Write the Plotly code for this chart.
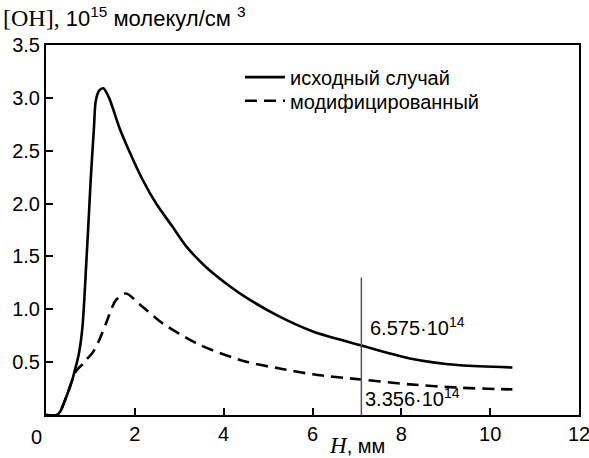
import plotly.graph_objects as go

# Data (values in units of 10^15 molecules/cm^3)
h_base = [0, 0.25, 0.33, 0.40, 0.50, 0.59, 0.66, 0.74, 0.82, 0.91, 0.97, 1.01, 1.08, 1.12,
          1.20, 1.29, 1.42, 1.65, 1.87, 2.17, 2.48, 2.85, 3.15, 3.6, 4.13, 4.51, 5.26,
          6.01, 7.1, 8.19, 9.32, 10.5]
oh_base = [0, 0, 0.04, 0.11, 0.22, 0.33, 0.44, 0.58, 0.83, 1.46, 1.93, 2.25, 2.72, 2.97,
           3.07, 3.09, 3.0, 2.72, 2.5, 2.23, 2.0, 1.78, 1.60, 1.40, 1.22, 1.11, 0.93,
           0.79, 0.6575, 0.535, 0.47, 0.45]

h_mod = [0, 0.25, 0.33, 0.40, 0.50, 0.59, 0.67, 0.75, 0.82, 0.90, 1.05, 1.20, 1.35, 1.57,
         1.80, 2.10, 2.63, 3.0, 3.38, 3.75, 4.51, 5.26, 6.01, 7.1, 8.19, 9.32, 10.5]
oh_mod = [0, 0, 0.04, 0.11, 0.22, 0.33, 0.41, 0.45, 0.48, 0.52, 0.59, 0.71, 0.865, 1.085,
          1.15, 1.05, 0.865, 0.77, 0.68, 0.613, 0.503, 0.44, 0.385, 0.3356, 0.29, 0.258, 0.242]

series_names = ["исходный случай", "модифицированный"]
marker_h = 7.1
marker_top = 1.3
marker_labels = ["6.575·10<sup>14</sup>", "3.356·10<sup>14</sup>"]

x_ticks = [2, 4, 6, 8, 10, 12]
y_ticks = [0.5, 1.0, 1.5, 2.0, 2.5, 3.0, 3.5]

SANS = "Liberation Sans, Arial, sans-serif"
FS = 20

fig = go.Figure()
fig.add_trace(go.Scatter(x=h_base, y=oh_base, mode="lines", name=series_names[0], legend="legend",
                         line=dict(color="black", width=2.6, shape="spline", smoothing=0.8)))
fig.add_trace(go.Scatter(x=h_mod, y=oh_mod, mode="lines", name=series_names[1], legend="legend2",
                         line=dict(color="black", width=2.6, dash="12px,7px", shape="spline", smoothing=0.8)))

fig.add_shape(type="line", x0=marker_h, x1=marker_h, y0=0, y1=marker_top,
              xref="x", yref="y", line=dict(color="#555555", width=1.5))

fig.add_annotation(x=marker_h, y=0.6575, xref="x", yref="y", text=marker_labels[0],
                   showarrow=False, xanchor="left", yanchor="middle", xshift=7, yshift=19,
                   font=dict(family=SANS, size=FS, color="black"))
fig.add_annotation(x=marker_h, y=0, xref="x", yref="y", text=marker_labels[1],
                   showarrow=False, xanchor="left", yanchor="middle", xshift=2, yshift=18,
                   font=dict(family=SANS, size=FS, color="black"))

# x "0" label, set slightly left like the original
fig.add_annotation(x=0, y=0, xref="x", yref="y", text="0", showarrow=False,
                   xanchor="center", yanchor="middle", xshift=-10, yshift=-22,
                   font=dict(family=SANS, size=FS, color="black"))

# x axis title
fig.add_annotation(x=7.0, y=0, xref="x", yref="y", showarrow=False,
                   xanchor="center", yanchor="middle", yshift=-30,
                   text='<span style="font-family:Liberation Serif;font-size:23px"><i>H</i></span>, мм',
                   font=dict(family=SANS, size=FS, color="black"))

# y axis title at top-left
fig.add_annotation(x=0, y=1, xref="paper", yref="paper", xanchor="left", yanchor="middle",
                   xshift=-45, yshift=28, showarrow=False,
                   text=('<span style="font-family:Liberation Serif;font-size:24px">[OH],</span> '
                         '10<sup>15</sup> молекул/см <sup>3</sup>'),
                   font=dict(family=SANS, size=22, color="black"))

fig.update_xaxes(range=[0, 12], tickvals=x_ticks, ticktext=[str(v) for v in x_ticks],
                 ticks="inside", ticklen=7, tickwidth=1.5, tickcolor="black",
                 showline=True, linecolor="black", linewidth=2, mirror=True,
                 showgrid=False, zeroline=False, automargin=False,
                 ticklabeloverflow="allow",
                 tickfont=dict(family=SANS, size=FS, color="black"))
fig.update_yaxes(range=[0, 3.5], tickvals=y_ticks, ticktext=[f"{v:.1f}" for v in y_ticks],
                 ticks="inside", ticklen=7, tickwidth=1.5, tickcolor="black",
                 showline=True, linecolor="black", linewidth=2, mirror=True,
                 showgrid=False, zeroline=False, automargin=False,
                 ticklabeloverflow="allow",
                 tickfont=dict(family=SANS, size=FS, color="black"))

legend_common = dict(xanchor="left", yanchor="top", bgcolor="rgba(0,0,0,0)", borderwidth=0,
                     font=dict(family=SANS, size=FS, color="black"), itemwidth=40)
fig.update_layout(width=589, height=458, margin=dict(l=46, r=10, t=45, b=43),
                  paper_bgcolor="white", plot_bgcolor="white",
                  showlegend=True,
                  legend=dict(x=0.364, y=0.966, **legend_common),
                  legend2=dict(x=0.364, y=0.902, **legend_common))

fig.write_html("out.html")
